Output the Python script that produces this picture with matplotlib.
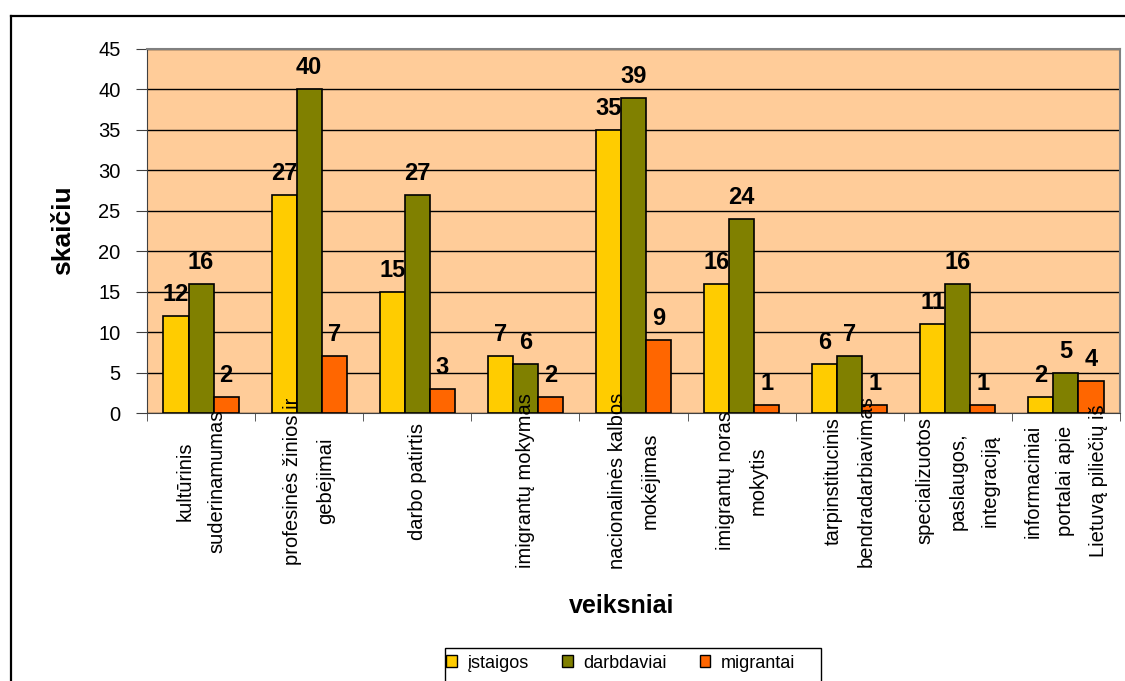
import matplotlib
matplotlib.use('Agg')
import matplotlib.pyplot as plt
import matplotlib.transforms as mtransforms
from matplotlib.lines import Line2D
from matplotlib.patches import Rectangle, Patch
import numpy as np

plt.rcParams['font.family'] = ['Liberation Sans', 'DejaVu Sans']

# ---- data ----
categories = [
    "kultūrinis\nsuderinamumas",
    "profesinės žinios ir\ngebėjimai",
    "darbo patirtis",
    "imigrantų mokymas",
    "nacionalinės kalbos\nmokėjimas",
    "imigrantų noras\nmokytis",
    "tarpinstitucinis\nbendradarbiavimas",
    "specializuotos\npaslaugos,\nintegraciją",
    "informaciniai\nportalai apie\nLietuvą piliečių iš",
]
series_names = ["įstaigos", "darbdaviai", "migrantai"]
istaigos = [12, 27, 15, 7, 35, 16, 6, 11, 2]
darbdaviai = [16, 40, 27, 6, 39, 24, 7, 16, 5]
migrantai = [2, 7, 3, 2, 9, 1, 1, 1, 4]
yticks = [0, 5, 10, 15, 20, 25, 30, 35, 40, 45]

colors = ["#FFCC00", "#808000", "#FF6600"]

W, H = 1125, 681
def fx(px): return px / W
def fy(py): return 1 - py / H

fig = plt.figure(figsize=(11.25, 6.81), dpi=100)
ax = fig.add_axes([fx(147), fy(413), fx(1120) - fx(147), fy(49) - fy(413)])
ax.set_facecolor('#FFCC99')

x = np.arange(len(categories))
w = 0.232
for i, (vals, col) in enumerate(zip([istaigos, darbdaviai, migrantai], colors)):
    bars = ax.bar(x + (i - 1) * w, vals, w, color=col, edgecolor='black',
                  linewidth=1.2, zorder=3)
    for b, v in zip(bars, vals):
        ax.annotate(str(v), (b.get_x() + b.get_width() / 2, v), xytext=(0, 15.5),
                    textcoords='offset points', ha='center', va='center',
                    fontsize=17, fontweight='bold', zorder=5)

ax.set_ylim(0, 45)
ax.set_yticks(yticks)
ax.set_xlim(-0.5, len(categories) - 0.5)
ax.yaxis.grid(True, color='black', lw=1)
ax.set_axisbelow(True)
ax.set_xticks(x)
ax.set_xticklabels([])
ax.tick_params(axis='x', which='major', length=0)
ax.set_xticks(np.arange(-0.5, len(categories), 1), minor=True)
ax.tick_params(axis='x', which='minor', length=6, direction='out', color='#404040')
ax.tick_params(axis='y', length=8, pad=11, labelsize=14.5, direction='out', color='#404040')
for s in ['top', 'right']:
    ax.spines[s].set_color('#808080')
    ax.spines[s].set_linewidth(1.5)
for s in ['left', 'bottom']:
    ax.spines[s].set_color('#404040')

trans = mtransforms.blended_transform_factory(ax.transData, ax.transAxes)
ylab = (413 - 481) / (413 - 49)
for xi, lab in zip(x, categories):
    ax.text(xi, ylab, lab, transform=trans, rotation=90, ha='center', va='center',
            multialignment='center', fontsize=14.5, linespacing=1.9, zorder=6,
            clip_on=False)

fig.text(fx(63), fy(230), "skaičiu", rotation=90, ha='center', va='center',
         fontsize=19, fontweight='bold')
fig.text(fx(622), fy(606), "veiksniai", ha='center', va='center',
         fontsize=18, fontweight='bold')

handles = [Patch(facecolor=c, edgecolor='black', lw=1) for c in colors]
fig.legend(handles, series_names, loc='center', bbox_to_anchor=(fx(621), fy(663)),
           ncol=3, frameon=False, fontsize=13, handlelength=0.6,
           handleheight=0.6, handletextpad=0.6, columnspacing=1.8)
fig.add_artist(Rectangle((fx(445), fy(720)), fx(821) - fx(445), fy(648) - fy(720),
                         transform=fig.transFigure, fill=False, edgecolor='black', lw=1))

fig.add_artist(Line2D([fx(11), fx(11)], [fy(700), fy(16)], color='black', lw=1.6,
                      transform=fig.transFigure))
fig.add_artist(Line2D([fx(11), 1.01], [fy(16), fy(16)], color='black', lw=1.6,
                      transform=fig.transFigure))

fig.savefig('out.png', dpi=100)
